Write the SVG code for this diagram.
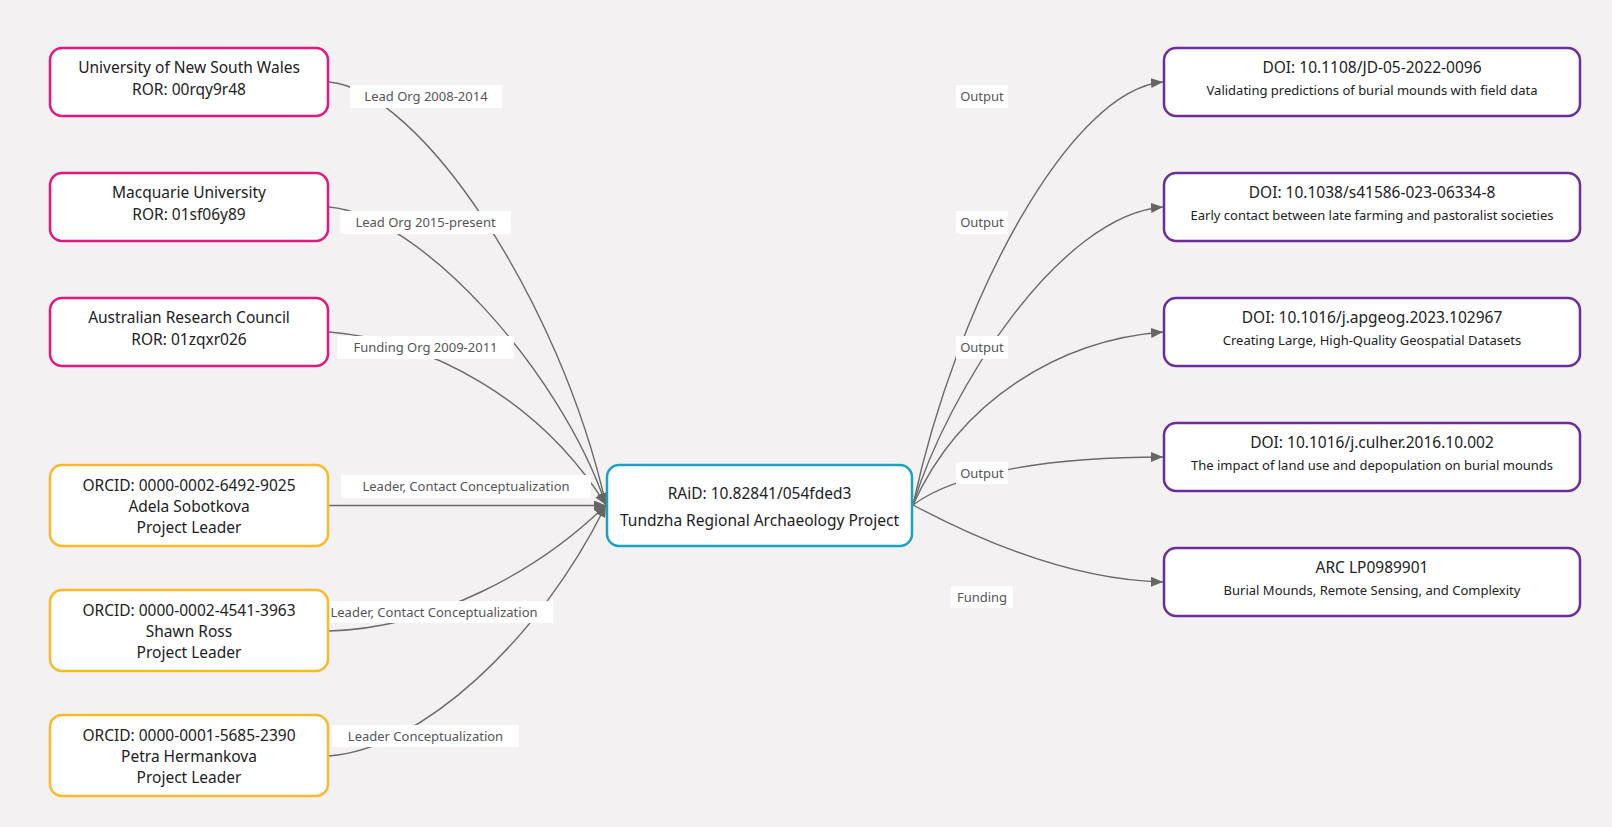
<svg xmlns="http://www.w3.org/2000/svg" width="1612" height="827" viewBox="0 0 1612 827">
<defs>
<style>
.bg{fill:#F3F1F2}
.node rect{fill:#fff;stroke-width:2.5}
.org rect{stroke:#E6167F}
.per rect{stroke:#FBB829}
.ctr rect{stroke:#1AA2C3}
.out rect{stroke:#6A2D9B}
.t{font-family:"Noto Sans","Liberation Sans",sans-serif;fill:#222;text-anchor:middle}
.m{font-size:15.5px}
.s{font-size:13px}
.edges path{fill:none;stroke:#6B6B6B;stroke-width:1.4}
.lbl rect{fill:#fff}
.lbl text{font-family:"Noto Sans","Liberation Sans",sans-serif;font-size:13px;fill:#555;text-anchor:middle}
</style>
<marker id="ah" viewBox="0 0 12 10" refX="12" refY="5" markerWidth="12" markerHeight="10" markerUnits="userSpaceOnUse" orient="auto">
<path d="M0,0 L12,5 L0,10 z" fill="#666"/>
</marker>
</defs>
<rect class="bg" x="0" y="0" width="1612" height="827"/>
<g id="connectors">
<g class="edges">
<path d="M329,82 C420,90 560,300 606,505" marker-end="url(#ah)"/>
<path d="M329,207 C420,215 560,370 606,505" marker-end="url(#ah)"/>
<path d="M329,332 C430,340 540,400 606,505" marker-end="url(#ah)"/>
<path d="M329,505.5 L606,505.5" marker-end="url(#ah)"/>
<path d="M329,631 C435,628 540,570 606,505" marker-end="url(#ah)"/>
<path d="M329,756 C420,750 540,640 606,505" marker-end="url(#ah)"/>
<path d="M913,505 C957,300 1070,90 1163,82" marker-end="url(#ah)"/>
<path d="M913,505 C948,390 1060,215 1163,207" marker-end="url(#ah)"/>
<path d="M913,505 C960,400 1060,340 1163,332" marker-end="url(#ah)"/>
<path d="M913,505 C960,470 1060,457 1163,457" marker-end="url(#ah)"/>
<path d="M913,505 C960,530 1060,580 1163,582" marker-end="url(#ah)"/>
</g>
<g class="lbl">
<rect x="350" y="85" width="152" height="23"/><text x="426" y="101">Lead Org 2008-2014</text>
<rect x="340" y="211" width="171" height="23"/><text x="425.5" y="227">Lead Org 2015-present</text>
<rect x="337" y="336" width="177" height="23"/><text x="425.5" y="352">Funding Org 2009-2011</text>
<rect x="341" y="475" width="250" height="23"/><text x="466" y="491">Leader, Contact Conceptualization</text>
<rect x="315" y="601" width="238" height="22"/><text x="434" y="617">Leader, Contact Conceptualization</text>
<rect x="332" y="725" width="187" height="22"/><text x="425.5" y="741">Leader Conceptualization</text>
<rect x="956" y="85" width="52" height="23"/><text x="982" y="101">Output</text>
<rect x="956" y="211" width="52" height="23"/><text x="982" y="227">Output</text>
<rect x="956" y="336" width="52" height="23"/><text x="982" y="352">Output</text>
<rect x="956" y="462" width="52" height="22"/><text x="982" y="478">Output</text>
<rect x="951" y="586" width="62" height="22"/><text x="982" y="602">Funding</text>
</g>
</g>
<g id="unsw" class="node org"><rect x="50" y="48" width="278" height="68" rx="12"/><text class="t m" x="189" y="73">University of New South Wales</text><text class="t m" x="189" y="95">ROR: 00rqy9r48</text></g>
<g id="mq" class="node org"><rect x="50" y="173" width="278" height="68" rx="12"/><text class="t m" x="189" y="198">Macquarie University</text><text class="t m" x="189" y="220">ROR: 01sf06y89</text></g>
<g id="arc" class="node org"><rect x="50" y="298" width="278" height="68" rx="12"/><text class="t m" x="189" y="323">Australian Research Council</text><text class="t m" x="189" y="345">ROR: 01zqxr026</text></g>
<g id="adela" class="node per"><rect x="50" y="465" width="278" height="81" rx="12"/><text class="t m" x="189" y="491">ORCID: 0000-0002-6492-9025</text><text class="t m" x="189" y="512">Adela Sobotkova</text><text class="t m" x="189" y="533">Project Leader</text></g>
<g id="shawn" class="node per"><rect x="50" y="590" width="278" height="81" rx="12"/><text class="t m" x="189" y="616">ORCID: 0000-0002-4541-3963</text><text class="t m" x="189" y="637">Shawn Ross</text><text class="t m" x="189" y="658">Project Leader</text></g>
<g id="petra" class="node per"><rect x="50" y="715" width="278" height="81" rx="12"/><text class="t m" x="189" y="741">ORCID: 0000-0001-5685-2390</text><text class="t m" x="189" y="762">Petra Hermankova</text><text class="t m" x="189" y="783">Project Leader</text></g>
<g id="raid" class="node ctr"><rect x="607" y="465" width="305" height="81" rx="12"/><text class="t m" x="759.5" y="499">RAiD: 10.82841/054fded3</text><text class="t m" x="759.5" y="526">Tundzha Regional Archaeology Project</text></g>
<g id="doi1" class="node out"><rect x="1164" y="48" width="416" height="68" rx="12"/><text class="t m" x="1372" y="73">DOI: 10.1108/JD-05-2022-0096</text><text class="t s" x="1372" y="95">Validating predictions of burial mounds with field data</text></g>
<g id="doi2" class="node out"><rect x="1164" y="173" width="416" height="68" rx="12"/><text class="t m" x="1372" y="198">DOI: 10.1038/s41586-023-06334-8</text><text class="t s" x="1372" y="220">Early contact between late farming and pastoralist societies</text></g>
<g id="doi3" class="node out"><rect x="1164" y="298" width="416" height="68" rx="12"/><text class="t m" x="1372" y="323">DOI: 10.1016/j.apgeog.2023.102967</text><text class="t s" x="1372" y="345">Creating Large, High-Quality Geospatial Datasets</text></g>
<g id="doi4" class="node out"><rect x="1164" y="423" width="416" height="68" rx="12"/><text class="t m" x="1372" y="448">DOI: 10.1016/j.culher.2016.10.002</text><text class="t s" x="1372" y="470">The impact of land use and depopulation on burial mounds</text></g>
<g id="grant" class="node out"><rect x="1164" y="548" width="416" height="68" rx="12"/><text class="t m" x="1372" y="573">ARC LP0989901</text><text class="t s" x="1372" y="595">Burial Mounds, Remote Sensing, and Complexity</text></g>
</svg>
